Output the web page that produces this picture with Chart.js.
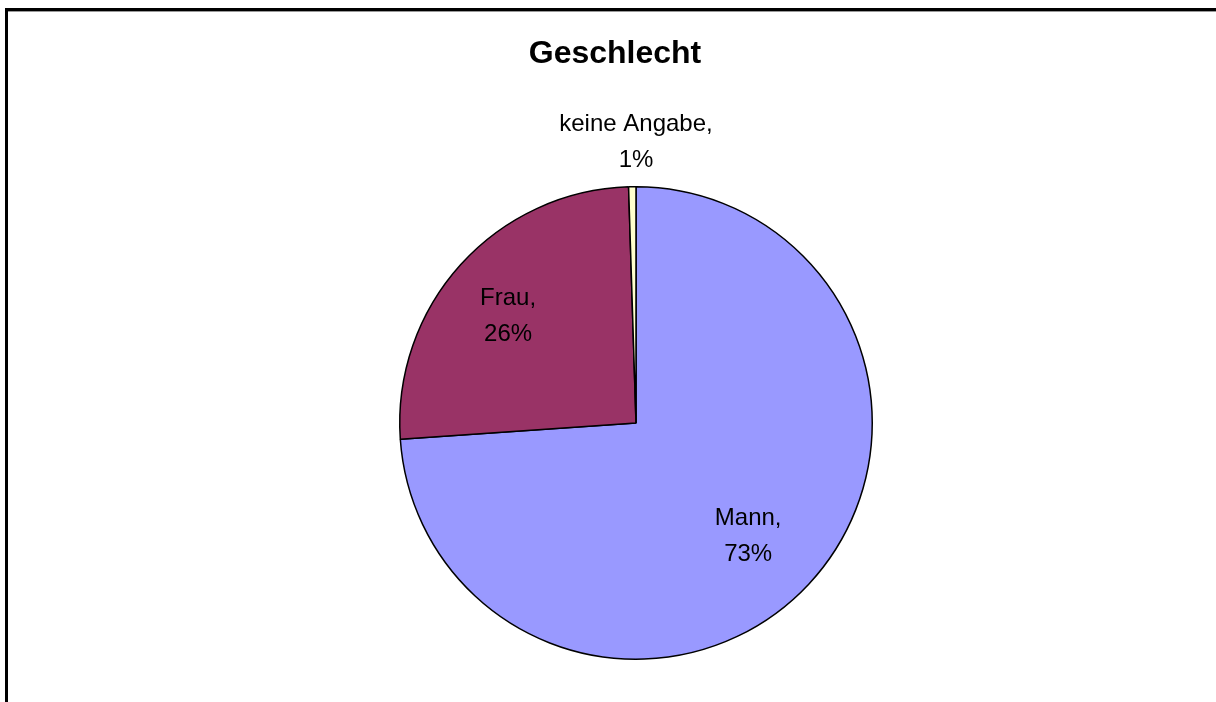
<!DOCTYPE html>
<html>
<head>
<meta charset="utf-8">
<script src="https://cdn.jsdelivr.net/npm/chart.js@4"></script>
<style>
  html, body { margin: 0; padding: 0; background: #fff; }
  #wrap { position: relative; width: 1216px; height: 702px; overflow: hidden; }
  #frame { position: absolute; left: 5px; top: 8px; right: -10px; bottom: -10px;
           border-left: 3px solid #000; border-top: 3px solid #000; box-shadow: inset 0 1px 0 #999; }
  #chart-gender { position: absolute; left: 0; top: 0; }
</style>
</head>
<body>
<div id="wrap">
  <div id="frame"></div>
  <canvas id="chart-gender" width="1216" height="702"></canvas>
</div>
<script>
const chartTitle = 'Geschlecht';
const categories = ['Mann', 'Frau', 'keine Angabe'];
// slice sizes
const shares = [73.9, 25.6, 0.5];
// percentages as printed on the picture
const percentLabels = ['73%', '26%', '1%'];
const colors = ['#9999ff', '#993366', '#ffffcc'];

const font = '"Liberation Sans", Arial, sans-serif';

// title + data labels, Excel style
const pieLabels = {
  id: 'pieLabels',
  afterDraw(chart) {
    const ctx = chart.ctx;
    ctx.save();
    ctx.fillStyle = '#000';
    ctx.textAlign = 'center';
    ctx.textBaseline = 'alphabetic';
    ctx.font = 'bold 32px ' + font;
    ctx.fillText(chartTitle, 615, 63);

    ctx.font = '24px ' + font;
    chart.getDatasetMeta(0).data.forEach((arc, i) => {
      const p = arc.getProps(['x', 'y', 'startAngle', 'endAngle', 'outerRadius'], true);
      const mid = (p.startAngle + p.endAngle) / 2;
      const small = (p.endAngle - p.startAngle) < 0.2;
      const r = p.outerRadius * (small ? 1.2 : 0.69);
      const x = small ? p.x : p.x + Math.cos(mid) * r - 7;
      const y = p.y + Math.sin(mid) * r + 9;  // +9 ~ half cap height
      ctx.fillText(categories[i] + ',', x, y - 18);
      ctx.fillText(percentLabels[i], x, y + 18);
    });
    ctx.restore();
  }
};

new Chart(document.getElementById('chart-gender'), {
  type: 'pie',
  data: {
    labels: categories,
    datasets: [{ data: shares, backgroundColor: colors, borderColor: '#000', borderWidth: 1.5 }]
  },
  options: {
    responsive: false,
    animation: false,
    layout: { padding: { top: 186, bottom: 42, left: 399, right: 343 } },
    plugins: { legend: { display: false }, tooltip: { enabled: false }, title: { display: false } }
  },
  plugins: [pieLabels]
});
</script>
</body>
</html>
